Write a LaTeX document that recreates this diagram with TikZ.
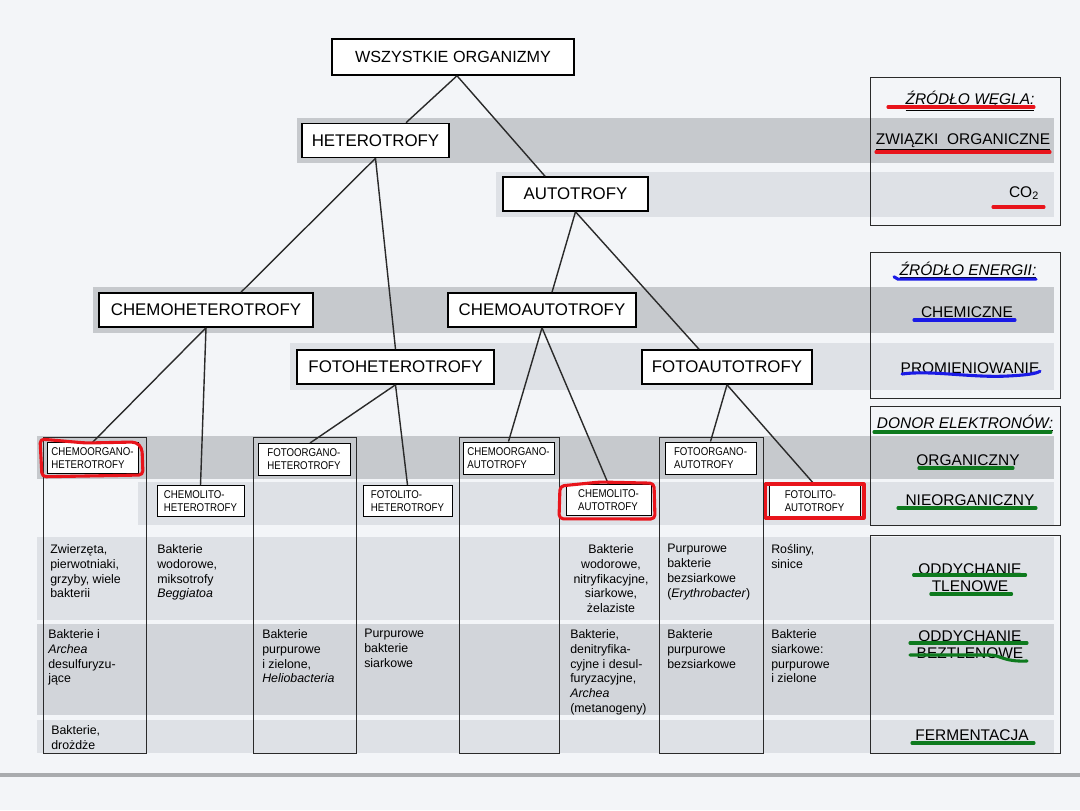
\documentclass[tikz,border=0pt]{standalone}
\usepackage{fontspec}
\setmainfont{Liberation Sans}
\newfontfamily\narrowsans[FakeStretch=0.86]{Liberation Sans}
\usetikzlibrary{backgrounds}
\definecolor{paperbg}{HTML}{F3F5F8}
\definecolor{banddark}{HTML}{C6C9CD}
\definecolor{bandmid}{HTML}{D2D5DA}
\definecolor{bandlight}{HTML}{DEE1E6}
\definecolor{rulegray}{HTML}{A9ABAE}
\definecolor{darkline}{HTML}{2A2A2A}
\definecolor{markred}{HTML}{E8141B}
\definecolor{markblue}{HTML}{1A1AE6}
\definecolor{markgreen}{HTML}{0E7A1E}
\tikzset{
  column/.style={draw=darkline, line width=0.6pt},
  bigbox/.style={rectangle, draw=black, fill=white, line width=1.1pt, minimum height=0.85cm, font=\fontsize{12}{14}\selectfont},
  smallbox/.style={rectangle, draw=black, fill=white, line width=0.7pt, minimum height=0.75cm, align=left, inner xsep=1.5pt, font=\narrowsans\fontsize{8}{9.2}\selectfont},
  link/.style={draw=darkline, line width=1pt},
  legendtext/.style={font=\fontsize{11}{12}\selectfont, align=center},
  example/.style={anchor=north west, inner sep=0pt, align=left, font=\fontsize{8.8}{10.6}\selectfont},
  marker/.style={line width=2.2pt, line cap=round, line join=round}
}

\begin{document}
\begin{tikzpicture}

\useasboundingbox (0,0) rectangle (27,20.25);
\fill[paperbg] (0,0) rectangle (27,20.25);

% grey bands
\fill[banddark]  (7.425,16.175) rectangle (26.35,17.3);
\fill[bandlight] (12.4,14.825) rectangle (26.35,15.95);
\fill[banddark]  (2.325,11.925) rectangle (26.35,13.075);
\fill[bandlight] (7.25,10.5) rectangle (26.35,11.675);
\fill[banddark]  (0.925,8.275) rectangle (26.35,9.35);
\fill[bandlight] (3.45,7.125) rectangle (26.35,8.2);
\fill[bandlight] (0.925,4.75) rectangle (26.35,6.825);
\fill[bandmid]   (0.925,2.375) rectangle (26.35,4.65);
\fill[bandlight] (0.925,1.425) rectangle (26.35,2.25);
\fill[rulegray]  (0,0.825) rectangle (27,0.925);

% columns and legend frames
\draw[column] (1.075,1.425) rectangle (3.65,9.325);
\draw[column] (6.325,1.425) rectangle (8.9,9.325);
\draw[column] (11.475,1.425) rectangle (13.975,9.325);
\draw[column] (16.4875,1.425) rectangle (19.075,9.325);
\draw[column] (21.75,14.625) rectangle (26.5,18.325);
\draw[column] (21.75,10.3) rectangle (26.5,13.95);
\draw[column] (21.75,7.125) rectangle (26.5,10.1);
\draw[column] (21.75,1.425) rectangle (26.5,6.875);

% tree
\node[bigbox, minimum width=6.05cm, minimum height=0.9cm, font=\fontsize{11.5}{13}\selectfont] (all) at (11.325,18.825) {WSZYSTKIE ORGANIZMY};
\node[bigbox, minimum width=3.675cm] (het) at (9.3875,16.7375) {HETEROTROFY};
\node[bigbox, minimum width=3.625cm] (aut) at (14.3875,15.4) {AUTOTROFY};
\node[bigbox, minimum width=5.35cm] (chemhet) at (5.15,12.5) {CHEMOHETEROTROFY};
\node[bigbox, minimum width=4.7cm] (chemaut) at (13.55,12.5) {CHEMOAUTOTROFY};
\node[bigbox, minimum width=4.925cm] (fothet) at (9.8875,11.075) {FOTOHETEROTROFY};
\node[bigbox, minimum width=4.25cm] (fotaut) at (18.175,11.075) {FOTOAUTOTROFY};

\node[smallbox, minimum width=2.275cm] (coh) at (2.3125,8.8) {CHEMOORGANO-\\HETEROTROFY};
\node[smallbox, minimum width=2.175cm] (clh) at (5.0125,7.725) {CHEMOLITO-\\HETEROTROFY};
\node[smallbox, minimum width=2.3cm, minimum height=0.8cm] (foh) at (7.6,8.7625) {FOTOORGANO-\\HETEROTROFY};
\node[smallbox, minimum width=2.225cm, minimum height=0.775cm] (flh) at (10.1875,7.725) {FOTOLITO-\\HETEROTROFY};
\node[smallbox, minimum width=2.275cm, minimum height=0.8cm] (coa) at (12.7125,8.8) {CHEMOORGANO-\\AUTOTROFY};
\node[smallbox, minimum width=2.125cm] (cla) at (15.2125,7.75) {CHEMOLITO-\\AUTOTROFY};
\node[smallbox, minimum width=2.275cm, minimum height=0.8cm] (foa) at (17.7625,8.8) {FOTOORGANO-\\AUTOTROFY};
\node[smallbox, minimum width=2.275cm, minimum height=0.8cm] (fla) at (20.3625,7.725) {FOTOLITO-\\AUTOTROFY};

\draw[link] ([xshift=0.1cm]all.south) -- ([xshift=0.7625cm]het.north);
\draw[link] ([xshift=0.1cm]all.south) -- ([xshift=-0.7625cm]aut.north);
\draw[link] (het.south) -- ([xshift=0.875cm]chemhet.north);
\draw[link] (het.south) -- (fothet.north);
\draw[link] (aut.south) -- ([xshift=0.25cm]chemaut.north);
\draw[link] (aut.south) -- ([xshift=-0.7cm]fotaut.north);
\draw[link] (chemhet.south) -- (coh.north);
\draw[link] (chemhet.south) -- (clh.north);
\draw[link] (fothet.south) -- ([xshift=0.15cm]foh.north);
\draw[link] (fothet.south) -- (flh.north);
\draw[link] (chemaut.south) -- (coa.north);
\draw[link] (chemaut.south) -- (cla.north);
\draw[link] (fotaut.south) -- (foa.north);
\draw[link] (fotaut.south) -- (fla.north);

% examples of organisms
\node[example] (animals) at (1.25,6.65) {Zwierzęta,\\pierwotniaki,\\grzyby, wiele\\bakterii};
\node[example] (hydrogen) at (3.925,6.65) {Bakterie\\wodorowe,\\miksotrofy\\\textit{Beggiatoa}};
\node[example, anchor=north, align=center] (nitrifiers) at (15.275,6.65) {Bakterie\\wodorowe,\\nitryfikacyjne,\\siarkowe,\\żelaziste};
\node[example] (nonsulfur) at (16.675,6.65) {Purpurowe\\bakterie\\bezsiarkowe\\(\textit{Erythrobacter})};
\node[example] (plants) at (19.275,6.65) {Rośliny,\\sinice};
\node[example] (desulf) at (1.2,4.525) {Bakterie i\\\textit{Archea}\\desulfuryzu-\\jące};
\node[example] (helio) at (6.55,4.525) {Bakterie\\purpurowe\\i zielone,\\\textit{Heliobacteria}};
\node[example] (sulfur) at (9.1,4.525) {Purpurowe\\bakterie\\siarkowe};
\node[example] (denitr) at (14.25,4.525) {Bakterie,\\denitryfika-\\cyjne i desul-\\furyzacyjne,\\\textit{Archea}\\(metanogeny)};
\node[example] (purple) at (16.675,4.525) {Bakterie\\purpurowe\\bezsiarkowe};
\node[example] (green) at (19.275,4.525) {Bakterie\\siarkowe:\\purpurowe\\i zielone};
\node[example] (yeast) at (1.275,2.125) {Bakterie,\\drożdże};

% legend
\node[legendtext] (carbon) at (24.25,17.725) {\textit{\underline{ŹRÓDŁO WĘGLA:}}};
\node[legendtext] (organic) at (24.075,16.7) {\underline{ZWIĄZKI\ \ ORGANICZNE}};
\node[legendtext] (co2) at (25.6,15.425) {CO\textsubscript{2}};
\node[legendtext] (energy) at (24.2,13.5) {\textit{\underline{ŹRÓDŁO ENERGII:}}};
\node[legendtext] (chemical) at (24.175,12.45) {CHEMICZNE};
\node[legendtext] (light) at (24.25,11.05) {PROMIENIOWANIE};
\node[legendtext] (donor) at (24.125,9.675) {\textit{\underline{DONOR ELEKTRONÓW:}}};
\node[legendtext] (orgdonor) at (24.2,8.75) {ORGANICZNY};
\node[legendtext] (inorgdonor) at (24.25,7.75) {NIEORGANICZNY};
\node[legendtext] (aerobic) at (24.25,5.8) {ODDYCHANIE\\TLENOWE};
\node[legendtext] (anaerobic) at (24.25,4.125) {ODDYCHANIE\\BEZTLENOWE};
\node[legendtext] (ferment) at (24.3,1.875) {FERMENTACJA};

% hand marks
\draw[marker, markred, rounded corners=3pt] (1.0,9.275) -- (2.15,9.175) -- (3.4,9.2) -- (3.55,9.05) -- (3.575,8.375) -- (1.05,8.33) -- cycle;
\draw[marker, markred, rounded corners=3pt] (14.0,8.1) -- (15.0,8.2) -- (16.35,8.17) -- (16.375,7.275) -- (13.975,7.28) -- cycle;
\draw[marker, markred] (19.1375,7.3) rectangle (21.6,8.15);
\draw[marker, markred] (22.2,17.575) -- (25.85,17.575);
\draw[marker, markred] (21.9,16.45) -- (26.25,16.45);
\draw[marker, markred] (24.825,15.075) -- (26.1,15.075);
\draw[marker, markblue] (22.35,13.33) -- (22.45,13.27) -- (25.9,13.27);
\draw[marker, markblue] (22.85,12.25) -- (25.375,12.25);
\draw[marker, markblue] (22.55,10.9) .. controls (23.3,11.0) and (24.3,10.8) .. (25.2,10.85) .. controls (25.6,10.87) and (25.9,10.9) .. (26.0,10.97);
\draw[marker, markgreen] (21.85,9.45) -- (26.275,9.45);
\draw[marker, markgreen] (22.975,8.55) -- (25.325,8.55);
\draw[marker, markgreen] (22.45,7.55) -- (25.9,7.55);
\draw[marker, markgreen] (22.84,5.875) -- (25.64,5.875);
\draw[marker, markgreen] (23.27,5.4) -- (25.29,5.4);
\draw[marker, markgreen] (22.75,4.175) -- (25.675,4.175);
\draw[marker, markgreen] (22.75,3.875) -- (24.75,3.875) .. controls (25.0,3.875) and (25.1,3.7) .. (25.675,3.725);
\draw[marker, markgreen] (22.8,1.675) -- (25.85,1.675);

\end{tikzpicture}
\end{document}
